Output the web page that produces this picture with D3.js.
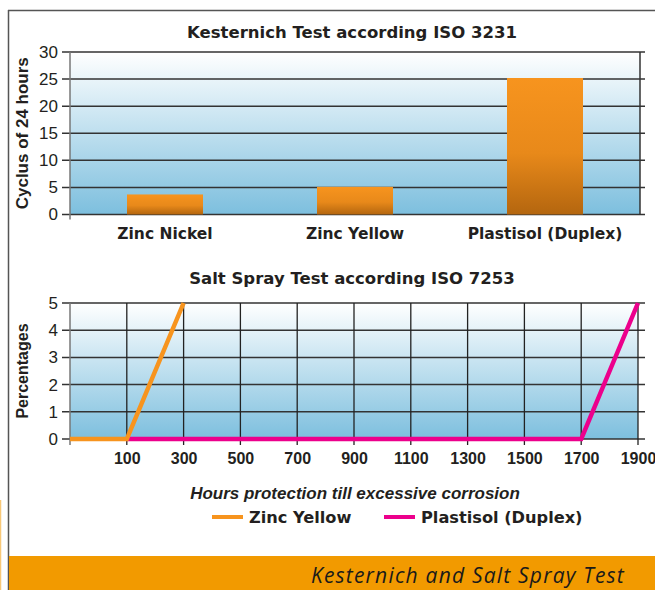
<!DOCTYPE html>
<html><head><meta charset="utf-8">
<script src="https://cdn.jsdelivr.net/npm/d3@7"></script>
<style>body{margin:0;background:#fff}svg{display:block}</style>
</head><body>
<script>
// Data
const barCategories = ["Zinc Nickel", "Zinc Yellow", "Plastisol (Duplex)"];
const barValues = [3.7, 5.1, 25.2];
const barTicks = [0, 5, 10, 15, 20, 25, 30];

const hourCategories = ["", "100", "300", "500", "700", "900", "1100", "1300", "1500", "1700", "1900"];
const zincYellowHours = ["", "100", "300"];
const zincYellowValues = [0, 0, 5];
const plastisolHours = ["100", "300", "500", "700", "900", "1100", "1300", "1500", "1700", "1900"];
const plastisolValues = [0, 0, 0, 0, 0, 0, 0, 0, 0, 5];
const pctTicks = [0, 1, 2, 3, 4, 5];

const W = 655, H = 590;
const svg = d3.select("body").append("svg").attr("width", W).attr("height", H);
const defs = svg.append("defs");
const bg = defs.append("linearGradient").attr("id", "bg").attr("x1", 0).attr("y1", 0).attr("x2", 0).attr("y2", 1);
bg.append("stop").attr("offset", "0%").attr("stop-color", "#ffffff");
bg.append("stop").attr("offset", "100%").attr("stop-color", "#7dbfde");
const bar = defs.append("linearGradient").attr("id", "bar").attr("x1", 0).attr("y1", 0).attr("x2", 0).attr("y2", 1);
bar.append("stop").attr("offset", "0%").attr("stop-color", "#f7941e");
bar.append("stop").attr("offset", "55%").attr("stop-color", "#e8891a");
bar.append("stop").attr("offset", "100%").attr("stop-color", "#b4660f");

const font = "'Liberation Sans', Arial, Helvetica, sans-serif";
const wide = "'DejaVu Sans', 'Liberation Sans', sans-serif";
const ink = "#231f20";

// frame
svg.append("line").attr("x1", 8).attr("x2", W).attr("y1", 10.5).attr("y2", 10.5).attr("stroke", "#555").attr("stroke-width", 1.5);
svg.append("line").attr("x1", 8.5).attr("x2", 8.5).attr("y1", 10).attr("y2", H).attr("stroke", "#555").attr("stroke-width", 1.5);
svg.append("line").attr("x1", 0.5).attr("x2", 0.5).attr("y1", 500).attr("y2", H).attr("stroke", "#f8c878").attr("stroke-width", 1.5);

// ---------- Top chart ----------
const t = {left: 70, right: 640, top: 52, bottom: 214.5};
const xb = d3.scaleBand().domain(barCategories).range([t.left, t.right]).paddingInner(0.6).paddingOuter(0.3);
const yb = d3.scaleLinear().domain([0, 30]).range([t.bottom, t.top]);

svg.append("text").attr("x", 352).attr("y", 38).attr("text-anchor", "middle")
  .attr("font-family", wide).attr("font-weight", "bold").attr("font-size", 16.5).attr("fill", ink)
  .text("Kesternich Test according ISO 3231");

svg.append("rect").attr("x", t.left).attr("y", t.top).attr("width", t.right - t.left).attr("height", t.bottom - t.top).attr("fill", "url(#bg)");

const gyTop = svg.append("g").attr("transform", `translate(${t.left},0)`)
  .call(d3.axisLeft(yb).tickValues(barTicks).tickFormat(d3.format("d")).tickSize(8).tickPadding(4));
gyTop.select(".domain").remove();
gyTop.selectAll(".tick line").attr("stroke", "none");
gyTop.selectAll(".tick text").attr("font-family", font).attr("font-size", 17).attr("fill", ink);

svg.append("g").selectAll("line").data(barTicks).join("line")
  .attr("x1", t.left - 8).attr("x2", t.right + 5)
  .attr("y1", d => yb(d)).attr("y2", d => yb(d))
  .attr("stroke", "#333").attr("stroke-width", 1.5);
svg.append("line").attr("x1", t.left).attr("x2", t.left).attr("y1", t.top).attr("y2", t.bottom + 5).attr("stroke", "#777").attr("stroke-width", 1.5);
svg.append("line").attr("x1", t.right).attr("x2", t.right).attr("y1", t.top).attr("y2", t.bottom).attr("stroke", "#333").attr("stroke-width", 1.5);

svg.append("g").selectAll("rect").data(barValues).join("rect")
  .attr("x", (d, i) => xb(barCategories[i])).attr("width", xb.bandwidth())
  .attr("y", d => yb(d)).attr("height", d => yb(0) - yb(d))
  .attr("fill", "url(#bar)");

const gxTop = svg.append("g").attr("transform", `translate(0,${t.bottom})`)
  .call(d3.axisBottom(xb).tickSize(0).tickPadding(13));
gxTop.select(".domain").remove();
gxTop.selectAll(".tick text").attr("font-family", wide).attr("font-weight", "bold").attr("font-size", 15.5).attr("fill", ink);

svg.append("text").attr("transform", `translate(28,${(t.top + t.bottom) / 2}) rotate(-90)`)
  .attr("text-anchor", "middle").attr("font-family", font).attr("font-weight", "bold").attr("font-size", 17).attr("fill", ink)
  .text("Cyclus of 24 hours");

// ---------- Bottom chart ----------
const b = {left: 70, right: 638, top: 303, bottom: 439};
const xp = d3.scalePoint().domain(hourCategories).range([b.left, b.right]);
const yp = d3.scaleLinear().domain([0, 5]).range([b.bottom, b.top]);

svg.append("text").attr("x", 352).attr("y", 284).attr("text-anchor", "middle")
  .attr("font-family", wide).attr("font-weight", "bold").attr("font-size", 16.5).attr("fill", ink)
  .text("Salt Spray Test according ISO 7253");

svg.append("rect").attr("x", b.left).attr("y", b.top).attr("width", b.right - b.left).attr("height", b.bottom - b.top).attr("fill", "url(#bg)");

svg.append("g").selectAll("line").data(pctTicks).join("line")
  .attr("x1", b.left - 8).attr("x2", b.right + 7)
  .attr("y1", d => yp(d)).attr("y2", d => yp(d))
  .attr("stroke", "#333").attr("stroke-width", 1.5);
svg.append("g").selectAll("line").data(hourCategories.slice(1)).join("line")
  .attr("x1", d => xp(d)).attr("x2", d => xp(d))
  .attr("y1", b.top).attr("y2", b.bottom + 6)
  .attr("stroke", "#222").attr("stroke-width", 1.3);
svg.append("line").attr("x1", b.left).attr("x2", b.left).attr("y1", b.top).attr("y2", b.bottom + 6).attr("stroke", "#777").attr("stroke-width", 1.5);

const gyB = svg.append("g").attr("transform", `translate(${b.left},0)`)
  .call(d3.axisLeft(yp).tickValues(pctTicks).tickFormat(d3.format("d")).tickSize(8).tickPadding(4));
gyB.select(".domain").remove();
gyB.selectAll(".tick line").attr("stroke", "none");
gyB.selectAll(".tick text").attr("font-family", font).attr("font-size", 17).attr("fill", ink);

const gxB = svg.append("g").attr("transform", `translate(0,${b.bottom})`)
  .call(d3.axisBottom(xp).tickSize(0).tickPadding(14));
gxB.select(".domain").remove();
gxB.selectAll(".tick text").attr("font-family", font).attr("font-weight", "bold").attr("font-size", 16).attr("fill", ink);

const line = d3.line().x(d => xp(d[0])).y(d => yp(d[1]));
svg.append("path").datum(plastisolHours.map((h, i) => [h, plastisolValues[i]]))
  .attr("d", line).attr("fill", "none").attr("stroke", "#ec008c").attr("stroke-width", 4.5);
svg.append("path").datum(zincYellowHours.map((h, i) => [h, zincYellowValues[i]]))
  .attr("d", line).attr("fill", "none").attr("stroke", "#f7941e").attr("stroke-width", 4.5);

svg.append("text").attr("transform", `translate(28,${(b.top + b.bottom) / 2}) rotate(-90)`)
  .attr("text-anchor", "middle").attr("font-family", font).attr("font-weight", "bold").attr("font-size", 16).attr("fill", ink)
  .text("Percentages");

svg.append("text").attr("x", 355).attr("y", 499).attr("text-anchor", "middle")
  .attr("font-family", font).attr("font-weight", "bold").attr("font-style", "italic").attr("font-size", 17).attr("fill", ink)
  .text("Hours protection till excessive corrosion");

// legend
const legend = [{name: "Zinc Yellow", color: "#f7941e", x: 212}, {name: "Plastisol (Duplex)", color: "#ec008c", x: 384}];
const lg = svg.append("g").selectAll("g").data(legend).join("g").attr("transform", d => `translate(${d.x},517)`);
lg.append("line").attr("x1", 0).attr("x2", 31).attr("y1", 0).attr("y2", 0).attr("stroke", d => d.color).attr("stroke-width", 4);
lg.append("text").attr("x", 37).attr("y", 6).attr("font-family", wide).attr("font-weight", "bold").attr("font-size", 16.2).attr("fill", ink).text(d => d.name);

// footer band
svg.append("rect").attr("x", 9).attr("y", 556).attr("width", W - 9).attr("height", H - 556).attr("fill", "#f29a00");
svg.append("text").attr("x", 625).attr("y", 583).attr("text-anchor", "end")
  .attr("font-family", "'Open Sans', 'Noto Sans', sans-serif").attr("font-style", "italic").attr("font-size", 21).attr("letter-spacing", 1.2).attr("fill", "#1a1a1a")
  .text("Kesternich and Salt Spray Test");
</script>
</body></html>
